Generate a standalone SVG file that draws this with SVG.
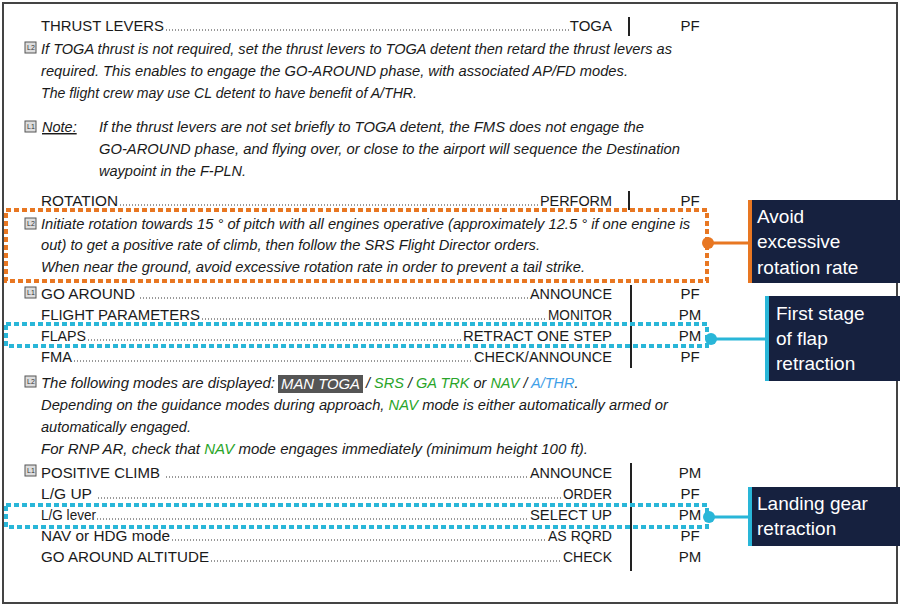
<svg xmlns="http://www.w3.org/2000/svg" width="900" height="607" viewBox="0 0 900 607">
<style>
.r{font-family:"Liberation Sans",Arial,sans-serif;font-size:15px;fill:#1a1a1a}
.i{font-family:"Liberation Sans",Arial,sans-serif;font-size:14.5px;font-style:italic;fill:#1a1a1a}
.v{text-anchor:end}
.c{text-anchor:middle}
.lead{stroke:#333;stroke-width:1;stroke-dasharray:1 2}
.bar{stroke:#222;stroke-width:2}
.ic{fill:#ddd;stroke:#555;stroke-width:1}
.ict{font-family:"Liberation Sans",Arial,sans-serif;font-size:7px;fill:#333}
.co{font-family:"Liberation Sans",Arial,sans-serif;font-size:19px;fill:#fff}
.g{fill:#2aa52a}.b{fill:#3fa0e8}
</style>
<rect x="3" y="3" width="894" height="600" fill="#fff" stroke="#444" stroke-width="2"/>
<g id="icons">
<rect class="ic" x="25" y="42" width="11" height="11"/><text class="ict" x="27" y="50">L2</text>
<rect class="ic" x="25" y="121" width="11" height="11" fill="#fff"/><text class="ict" x="27" y="129">L1</text>
<rect class="ic" x="25" y="218" width="11" height="11"/><text class="ict" x="27" y="226">L2</text>
<rect class="ic" x="25" y="287" width="11" height="11" fill="#fff"/><text class="ict" x="27" y="295">L1</text>
<rect class="ic" x="25" y="376" width="11" height="11"/><text class="ict" x="27" y="384">L2</text>
<rect class="ic" x="25" y="465" width="11" height="11" fill="#fff"/><text class="ict" x="27" y="473">L1</text>
</g>
<g id="rows">
<text class="r" x="41" y="31" textLength="123" lengthAdjust="spacingAndGlyphs">THRUST LEVERS</text><line class="lead" x1="166" y1="30" x2="570" y2="30"/><text class="r v" x="612" y="31">TOGA</text>
<text class="r" x="41" y="206" textLength="77" lengthAdjust="spacingAndGlyphs">ROTATION</text><line class="lead" x1="120" y1="205" x2="538" y2="205"/><text class="r v" x="612" y="206" textLength="72" lengthAdjust="spacingAndGlyphs">PERFORM</text>
<text class="r" x="41" y="299" textLength="94" lengthAdjust="spacingAndGlyphs">GO AROUND</text><line class="lead" x1="140" y1="298" x2="528" y2="298"/><text class="r v" x="612" y="299" textLength="82" lengthAdjust="spacingAndGlyphs">ANNOUNCE</text>
<text class="r" x="41" y="320" textLength="159" lengthAdjust="spacingAndGlyphs">FLIGHT PARAMETERS</text><line class="lead" x1="202" y1="319" x2="546" y2="319"/><text class="r v" x="612" y="320" textLength="64" lengthAdjust="spacingAndGlyphs">MONITOR</text>
<text class="r" x="41" y="341" textLength="45" lengthAdjust="spacingAndGlyphs">FLAPS</text><line class="lead" x1="88" y1="340" x2="461" y2="340"/><text class="r v" x="612" y="341" textLength="149" lengthAdjust="spacingAndGlyphs">RETRACT ONE STEP</text>
<text class="r" x="41" y="362" textLength="31" lengthAdjust="spacingAndGlyphs">FMA</text><line class="lead" x1="74" y1="361" x2="472" y2="361"/><text class="r v" x="612" y="362" textLength="138" lengthAdjust="spacingAndGlyphs">CHECK/ANNOUNCE</text>
<text class="r" x="41" y="478" textLength="119" lengthAdjust="spacingAndGlyphs">POSITIVE CLIMB</text><line class="lead" x1="166" y1="477" x2="528" y2="477"/><text class="r v" x="612" y="478" textLength="82" lengthAdjust="spacingAndGlyphs">ANNOUNCE</text>
<text class="r" x="41" y="499" textLength="51" lengthAdjust="spacingAndGlyphs">L/G UP</text><line class="lead" x1="98" y1="498" x2="561" y2="498"/><text class="r v" x="612" y="499" textLength="49" lengthAdjust="spacingAndGlyphs">ORDER</text>
<text class="r" x="41" y="520" textLength="55" lengthAdjust="spacingAndGlyphs">L/G lever</text><line class="lead" x1="97" y1="519" x2="528" y2="519"/><text class="r v" x="612" y="520" textLength="82" lengthAdjust="spacingAndGlyphs">SELECT UP</text>
<text class="r" x="41" y="541" textLength="129" lengthAdjust="spacingAndGlyphs">NAV or HDG mode</text><line class="lead" x1="172" y1="540" x2="546" y2="540"/><text class="r v" x="612" y="541" textLength="64" lengthAdjust="spacingAndGlyphs">AS RQRD</text>
<text class="r" x="41" y="562" textLength="168" lengthAdjust="spacingAndGlyphs">GO AROUND ALTITUDE</text><line class="lead" x1="211" y1="561" x2="561" y2="561"/><text class="r v" x="612" y="562" textLength="49" lengthAdjust="spacingAndGlyphs">CHECK</text>
</g>
<g id="roles">
<line class="bar" x1="629" y1="17" x2="629" y2="36"/>
<line class="bar" x1="629" y1="191" x2="629" y2="210"/>
<line class="bar" x1="631" y1="285" x2="631" y2="368"/>
<line class="bar" x1="631" y1="463" x2="631" y2="571"/>
<text class="r c" x="690" y="31">PF</text>
<text class="r c" x="690" y="206">PF</text>
<text class="r c" x="690" y="299">PF</text>
<text class="r c" x="690" y="320">PM</text>
<text class="r c" x="690" y="341">PM</text>
<text class="r c" x="690" y="362">PF</text>
<text class="r c" x="690" y="478">PM</text>
<text class="r c" x="690" y="499">PF</text>
<text class="r c" x="690" y="520">PM</text>
<text class="r c" x="690" y="541">PF</text>
<text class="r c" x="690" y="562">PM</text>
</g>
<g id="notes">
<text class="i" x="41" y="54" textLength="631" lengthAdjust="spacingAndGlyphs">If TOGA thrust is not required, set the thrust levers to TOGA detent then retard the thrust levers as</text>
<text class="i" x="41" y="76" textLength="587" lengthAdjust="spacingAndGlyphs">required. This enables to engage the GO-AROUND phase, with associated AP/FD modes.</text>
<text class="i" x="41" y="98" textLength="376" lengthAdjust="spacingAndGlyphs">The flight crew may use CL detent to have benefit of A/THR.</text>
<text class="i" x="42" y="132" text-decoration="underline">Note:</text>
<text class="i" x="99" y="132" textLength="545" lengthAdjust="spacingAndGlyphs">If the thrust levers are not set briefly to TOGA detent, the FMS does not engage the</text>
<text class="i" x="99" y="154" textLength="581" lengthAdjust="spacingAndGlyphs">GO-AROUND phase, and flying over, or close to the airport will sequence the Destination</text>
<text class="i" x="99" y="176" textLength="147" lengthAdjust="spacingAndGlyphs">waypoint in the F-PLN.</text>
<text class="i" x="41" y="229" textLength="649" lengthAdjust="spacingAndGlyphs">Initiate rotation towards 15 ° of pitch with all engines operative (approximately 12.5 ° if one engine is</text>
<text class="i" x="41" y="250" textLength="499" lengthAdjust="spacingAndGlyphs">out) to get a positive rate of climb, then follow the SRS Flight Director orders.</text>
<text class="i" x="41" y="272" textLength="544" lengthAdjust="spacingAndGlyphs">When near the ground, avoid excessive rotation rate in order to prevent a tail strike.</text>
<text class="i" x="41" y="388" textLength="234" lengthAdjust="spacingAndGlyphs">The following modes are displayed:</text>
<rect x="278" y="375" width="85" height="18" fill="#555"/>
<text class="i" x="281" y="389" style="fill:#fff" textLength="79" lengthAdjust="spacingAndGlyphs">MAN TOGA</text>
<text class="i" x="366" y="388"> / <tspan class="g">SRS</tspan> / <tspan class="g">GA TRK</tspan> or <tspan class="g">NAV</tspan> / <tspan class="b">A/THR</tspan>.</text>
<text class="i" x="41" y="410" textLength="627" lengthAdjust="spacingAndGlyphs">Depending on the guidance modes during approach, <tspan class="g">NAV</tspan> mode is either automatically armed or</text>
<text class="i" x="41" y="432" textLength="150" lengthAdjust="spacingAndGlyphs">automatically engaged.</text>
<text class="i" x="41" y="454" textLength="547" lengthAdjust="spacingAndGlyphs">For RNP AR, check that <tspan class="g">NAV</tspan> mode engages immediately (minimum height 100 ft).</text>
</g>
<g id="connectors">
<rect x="6" y="210" width="701" height="71" fill="none" stroke="#e87722" stroke-width="4" stroke-dasharray="5 3"/>
<circle cx="708" cy="243" r="6" fill="#e87722"/><line x1="708" y1="243" x2="748" y2="243" stroke="#e87722" stroke-width="3"/>
<rect x="6" y="324" width="701" height="22" fill="none" stroke="#29b6d8" stroke-width="4" stroke-dasharray="5 3"/>
<circle cx="711" cy="339" r="6" fill="#29b6d8"/><line x1="711" y1="339" x2="765" y2="339" stroke="#29b6d8" stroke-width="3"/>
<rect x="6" y="505" width="701" height="22" fill="none" stroke="#29b6d8" stroke-width="4" stroke-dasharray="5 3"/>
<circle cx="709" cy="517" r="6" fill="#29b6d8"/><line x1="709" y1="517" x2="748" y2="517" stroke="#29b6d8" stroke-width="3"/>
</g>
<g id="callout-rotation">
<rect x="748" y="200" width="152" height="83" fill="#16213f"/><rect x="748" y="200" width="4" height="83" fill="#e87722"/>
<text class="co" x="757" y="223">Avoid</text><text class="co" x="757" y="248">excessive</text><text class="co" x="757" y="274">rotation rate</text>
</g>
<g id="callout-flaps">
<rect x="765" y="296" width="135" height="85" fill="#16213f"/><rect x="765" y="296" width="4" height="85" fill="#29b6d8"/>
<text class="co" x="776" y="320">First stage</text><text class="co" x="776" y="345">of flap</text><text class="co" x="776" y="370">retraction</text>
</g>
<g id="callout-gear">
<rect x="748" y="487" width="152" height="59" fill="#16213f"/><rect x="748" y="487" width="4" height="59" fill="#29b6d8"/>
<text class="co" x="757" y="510">Landing gear</text><text class="co" x="757" y="535">retraction</text>
</g>
</svg>
